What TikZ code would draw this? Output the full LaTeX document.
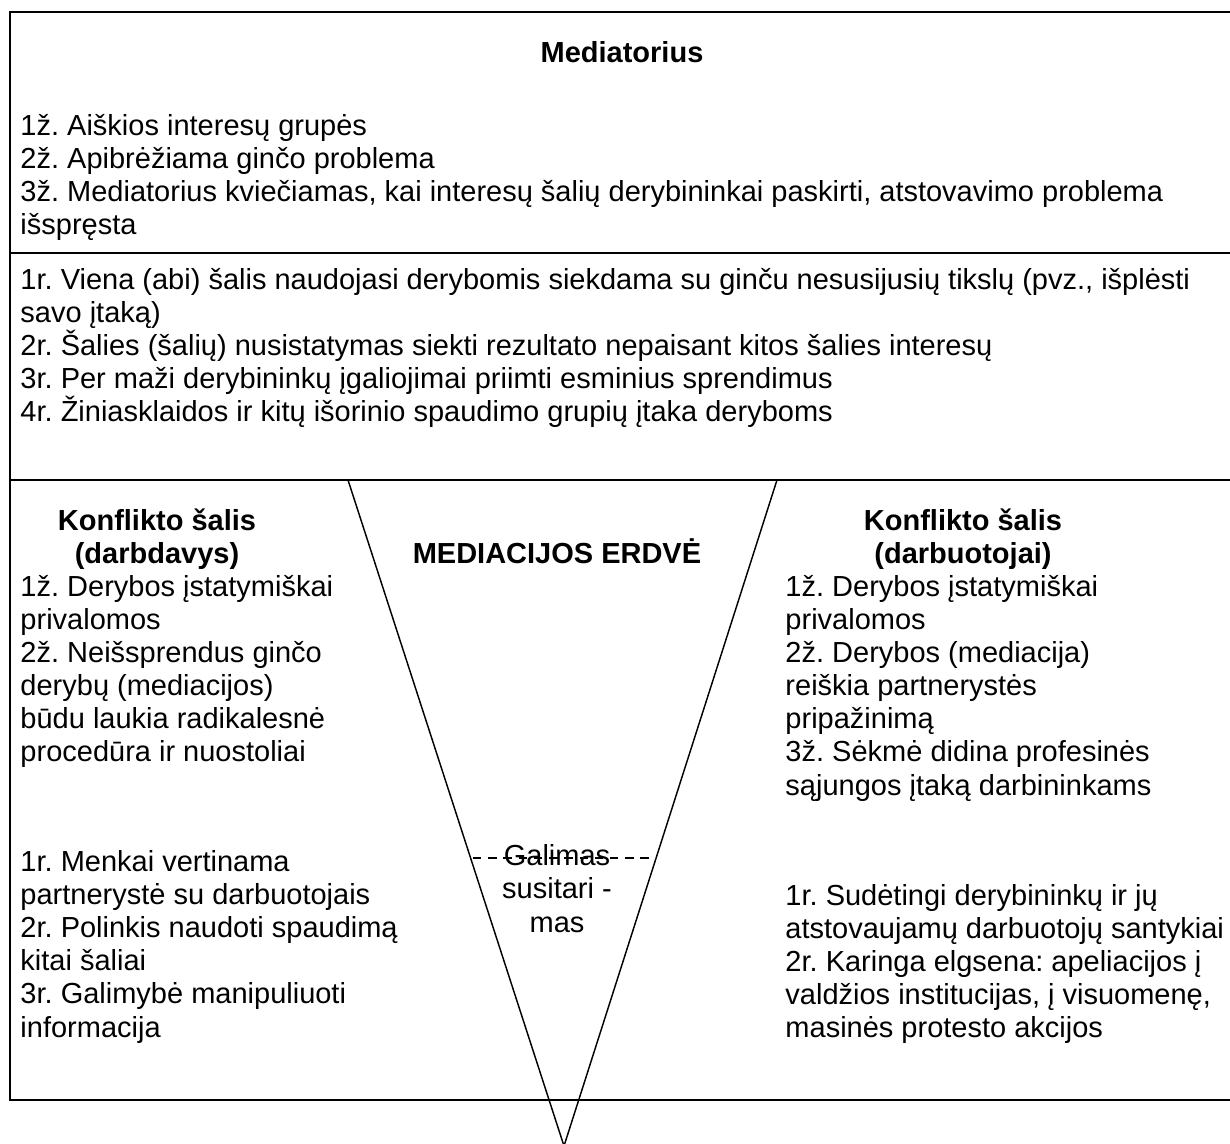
\documentclass[tikz,border=0pt]{standalone}
\usepackage{fontspec}
\setmainfont{Liberation Sans}
\usetikzlibrary{positioning}
\frenchspacing

\begin{document}
\begin{tikzpicture}[x=0.4138pt, y=-0.4138pt,
  txt/.style={anchor=base west, align=left, inner sep=0pt, font=\fontsize{12}{13.66}\selectfont},
  ttl/.style={anchor=base, align=center, inner sep=0pt, font=\fontsize{12}{13.66}\selectfont\bfseries},
  rule/.style={line width=0.6pt}]
\useasboundingbox (0,0) rectangle (1230,1144);
\clip (0,0) rectangle (1230,1144);
\draw[line width=1.2pt] (10,12) rectangle (1260,1100);
\draw[rule] (10,253) -- (1260,253);
\draw[rule] (10,480) -- (1260,480);
\coordinate (vl) at (348,480);
\coordinate (vr) at (777,480);
\coordinate (tip) at (564,1146);
\draw[rule] (vl) -- (tip) -- (vr);

\node[ttl] (medtitle) at (622,63) {Mediatorius};
\node[txt] (medz) at (20,235) {1ž. Aiškios interesų grupės\\
2ž. Apibrėžiama ginčo problema\\
3ž. Mediatorius kviečiamas, kai interesų šalių derybininkai paskirti, atstovavimo problema\\
išspręsta};
\node[txt] (medr) at (20,422) {1r. Viena (abi) šalis naudojasi derybomis siekdama su ginču nesusijusių tikslų (pvz., išplėsti\\
savo įtaką)\\
2r. Šalies (šalių) nusistatymas siekti rezultato nepaisant kitos šalies interesų\\
3r. Per maži derybininkų įgaliojimai priimti esminius sprendimus\\
4r. Žiniasklaidos ir kitų išorinio spaudimo grupių įtaka deryboms};

\node[ttl] (lefttitle) at (157,564) {Konflikto šalis\\(darbdavys)};
\node[txt] (leftz) at (20,762) {1ž. Derybos įstatymiškai\\
privalomos\\
2ž. Neišsprendus ginčo\\
derybų (mediacijos)\\
būdu laukia radikalesnė\\
procedūra ir nuostoliai};
\node[txt] (leftr) at (20,1037) {1r. Menkai vertinama\\
partnerystė su darbuotojais\\
2r. Polinkis naudoti spaudimą\\
kitai šaliai\\
3r. Galimybė manipuliuoti\\
informacija};

\node[ttl] (space) at (557,564) {MEDIACIJOS ERDVĖ};
\node[anchor=base, align=center, inner sep=0pt, font=\fontsize{12}{13.66}\selectfont] (deal) at (557,932) {Galimas\\susitari -\\mas};

\node[ttl] (righttitle) at (963,564) {Konflikto šalis\\(darbuotojai)};
\node[txt] (rightz) at (785,795) {1ž. Derybos įstatymiškai\\
privalomos\\
2ž. Derybos (mediacija)\\
reiškia partnerystės\\
pripažinimą\\
3ž. Sėkmė didina profesinės\\
sąjungos įtaką darbininkams};
\node[txt] (rightr) at (785,1038) {1r. Sudėtingi derybininkų ir jų\\
atstovaujamų darbuotojų santykiai\\
2r. Karinga elgsena: apeliacijos į\\
valdžios institucijas, į visuomenę,\\
masinės protesto akcijos};

\coordinate (dl) at (473,858);
\coordinate (dr) at (653,858);
\draw[line width=0.5pt, dash pattern=on 3.5pt off 2.8pt] (dl) -- (dr);
\end{tikzpicture}
\end{document}
